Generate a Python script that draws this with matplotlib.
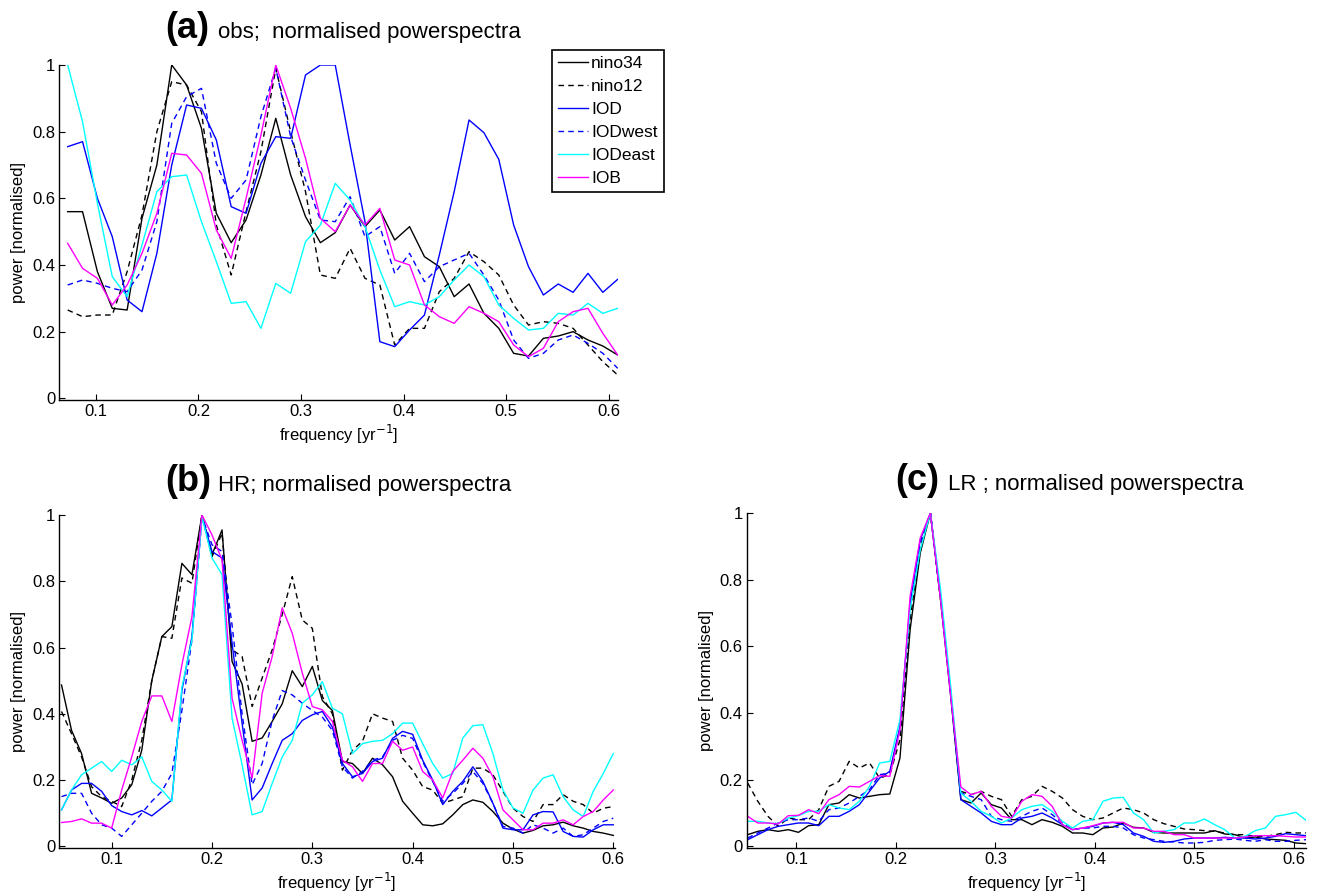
import numpy as np
import matplotlib
matplotlib.use('Agg')
import matplotlib.pyplot as plt
from matplotlib.ticker import FuncFormatter

plt.rcParams['font.family'] = ['Liberation Sans', 'DejaVu Sans']

# frequencies [1/yr]
freq_a = np.arange(5, 43) / 69.0
freq_b = np.arange(5, 61) / 100.0
freq_c = np.arange(5, 61) / 98.0

# (a) observations
nino34_a = [0.56, 0.56, 0.38, 0.27, 0.265, 0.54, 0.70, 1.0, 0.94, 0.81,
            0.555, 0.467, 0.535, 0.67, 0.84, 0.67, 0.545, 0.467, 0.497, 0.58,
            0.515, 0.565, 0.475, 0.515, 0.425, 0.395, 0.305, 0.343, 0.255, 0.21,
            0.135, 0.127, 0.18, 0.187, 0.20, 0.175, 0.157, 0.13]
nino12_a = [0.265, 0.245, 0.25, 0.25, 0.38, 0.55, 0.80, 0.95, 0.94, 0.86,
            0.52, 0.37, 0.56, 0.74, 0.99, 0.80, 0.62, 0.37, 0.36, 0.45,
            0.36, 0.34, 0.16, 0.21, 0.21, 0.32, 0.36, 0.44, 0.41, 0.37,
            0.28, 0.22, 0.23, 0.225, 0.21, 0.16, 0.11, 0.07]
iod_a = [0.755, 0.77, 0.60, 0.485, 0.295, 0.26, 0.435, 0.70, 0.88, 0.87,
         0.775, 0.575, 0.555, 0.705, 0.785, 0.78, 0.97, 1.0, 1.0, 0.76,
         0.53, 0.17, 0.155, 0.205, 0.25, 0.43, 0.62, 0.835, 0.797, 0.717,
         0.52, 0.395, 0.31, 0.343, 0.318, 0.375, 0.318, 0.357]
iodwest_a = [0.34, 0.355, 0.345, 0.33, 0.32, 0.385, 0.53, 0.825, 0.905, 0.93,
             0.705, 0.60, 0.655, 0.845, 0.99, 0.785, 0.655, 0.535, 0.53, 0.605,
             0.485, 0.515, 0.375, 0.435, 0.35, 0.395, 0.415, 0.435, 0.37, 0.295,
             0.175, 0.12, 0.135, 0.175, 0.19, 0.165, 0.135, 0.09]
iodeast_a = [1.0, 0.83, 0.585, 0.365, 0.305, 0.46, 0.62, 0.665, 0.67, 0.53,
             0.41, 0.285, 0.29, 0.21, 0.345, 0.315, 0.47, 0.52, 0.645, 0.595,
             0.515, 0.385, 0.275, 0.29, 0.28, 0.305, 0.355, 0.40, 0.365, 0.28,
             0.24, 0.205, 0.21, 0.255, 0.25, 0.285, 0.255, 0.27]
iob_a = [0.465, 0.39, 0.36, 0.28, 0.34, 0.435, 0.555, 0.735, 0.73, 0.675,
         0.505, 0.42, 0.60, 0.79, 1.0, 0.87, 0.72, 0.54, 0.50, 0.58,
         0.52, 0.57, 0.415, 0.40, 0.28, 0.245, 0.225, 0.275, 0.255, 0.23,
         0.16, 0.125, 0.15, 0.23, 0.26, 0.27, 0.195, 0.13]

# (b) HR model
nino34_b = [0.487, 0.35, 0.28, 0.16, 0.146, 0.13, 0.146, 0.186, 0.29, 0.50,
            0.633, 0.663, 0.854, 0.82, 1.0, 0.88, 0.955, 0.558, 0.49, 0.317,
            0.327, 0.377, 0.43, 0.53, 0.482, 0.543, 0.44, 0.41, 0.256, 0.25,
            0.22, 0.266, 0.246, 0.21, 0.136, 0.10, 0.065, 0.062, 0.068, 0.095,
            0.126, 0.14, 0.133, 0.105, 0.07, 0.052, 0.04, 0.048, 0.062, 0.065,
            0.073, 0.062, 0.055, 0.045, 0.04, 0.033]
nino12_b = [0.407, 0.34, 0.27, 0.18, 0.15, 0.136, 0.12, 0.20, 0.32, 0.50,
            0.633, 0.628, 0.81, 0.794, 1.0, 0.874, 0.945, 0.593, 0.573, 0.422,
            0.508, 0.593, 0.70, 0.814, 0.683, 0.658, 0.452, 0.40, 0.23, 0.29,
            0.317, 0.40, 0.387, 0.377, 0.266, 0.23, 0.18, 0.17, 0.13, 0.14,
            0.15, 0.236, 0.236, 0.216, 0.166, 0.115, 0.09, 0.075, 0.126, 0.126,
            0.156, 0.136, 0.126, 0.10, 0.115, 0.12]
iod_b = [0.11, 0.17, 0.19, 0.19, 0.166, 0.123, 0.105, 0.095, 0.108, 0.092,
         0.116, 0.14, 0.47, 0.633, 0.995, 0.89, 0.87, 0.613, 0.372, 0.14,
         0.176, 0.25, 0.32, 0.34, 0.38, 0.397, 0.407, 0.36, 0.25, 0.21,
         0.22, 0.256, 0.266, 0.326, 0.347, 0.338, 0.26, 0.20, 0.126, 0.166,
         0.196, 0.24, 0.196, 0.13, 0.055, 0.05, 0.05, 0.095, 0.105, 0.104,
         0.045, 0.03, 0.028, 0.05, 0.065, 0.065]
iodwest_b = [0.15, 0.16, 0.16, 0.10, 0.065, 0.055, 0.03, 0.065, 0.10, 0.136,
             0.166, 0.22, 0.41, 0.623, 0.995, 0.91, 0.89, 0.668, 0.40, 0.186,
             0.25, 0.38, 0.47, 0.457, 0.432, 0.41, 0.39, 0.35, 0.24, 0.206,
             0.226, 0.26, 0.27, 0.32, 0.335, 0.326, 0.256, 0.196, 0.136, 0.16,
             0.19, 0.226, 0.19, 0.13, 0.06, 0.055, 0.04, 0.065, 0.055, 0.04,
             0.055, 0.03, 0.035, 0.055, 0.075, 0.085]
iodeast_b = [0.11, 0.17, 0.216, 0.236, 0.256, 0.226, 0.26, 0.246, 0.27, 0.196,
             0.17, 0.136, 0.48, 0.623, 0.995, 0.87, 0.82, 0.387, 0.246, 0.095,
             0.105, 0.19, 0.27, 0.32, 0.432, 0.457, 0.497, 0.417, 0.40, 0.28,
             0.31, 0.317, 0.32, 0.34, 0.372, 0.372, 0.31, 0.25, 0.206, 0.22,
             0.327, 0.364, 0.367, 0.28, 0.17, 0.116, 0.10, 0.17, 0.206, 0.216,
             0.15, 0.11, 0.09, 0.166, 0.22, 0.28]
iob_b = [0.072, 0.075, 0.083, 0.07, 0.07, 0.055, 0.17, 0.27, 0.377, 0.454,
         0.454, 0.377, 0.548, 0.693, 1.0, 0.94, 0.864, 0.447, 0.32, 0.206,
         0.462, 0.573, 0.72, 0.643, 0.523, 0.422, 0.412, 0.377, 0.26, 0.24,
         0.196, 0.25, 0.25, 0.317, 0.29, 0.30, 0.226, 0.20, 0.146, 0.226,
         0.26, 0.296, 0.266, 0.21, 0.11, 0.08, 0.05, 0.05, 0.07, 0.07,
         0.08, 0.065, 0.09, 0.105, 0.14, 0.17]

# (c) LR model
nino34_c = [0.035, 0.045, 0.05, 0.045, 0.05, 0.042, 0.062, 0.065, 0.125, 0.13,
            0.155, 0.145, 0.15, 0.155, 0.157, 0.265, 0.65, 0.88, 1.0, 0.74,
            0.45, 0.14, 0.13, 0.16, 0.125, 0.115, 0.08, 0.08,
            0.065, 0.08, 0.072, 0.06, 0.04, 0.04, 0.035, 0.055, 0.058, 0.07,
            0.057, 0.055, 0.042, 0.04, 0.04, 0.04, 0.04, 0.04, 0.047, 0.037,
            0.035, 0.025, 0.028, 0.022, 0.02, 0.018, 0.01, 0.008]
nino12_c = [0.19, 0.135, 0.09, 0.06, 0.085, 0.08, 0.08, 0.11, 0.18, 0.195,
            0.255, 0.235, 0.25, 0.205, 0.215, 0.32, 0.68, 0.90, 1.0, 0.74,
            0.46, 0.165, 0.155, 0.165, 0.15, 0.14, 0.09, 0.14,
            0.15, 0.18, 0.165, 0.145, 0.11, 0.09, 0.08, 0.085, 0.10, 0.115,
            0.11, 0.10, 0.08, 0.068, 0.06, 0.052, 0.05, 0.047, 0.045, 0.04,
            0.035, 0.035, 0.03, 0.03, 0.035, 0.042, 0.04, 0.04]
iod_c = [0.02, 0.035, 0.05, 0.06, 0.065, 0.07, 0.07, 0.062, 0.09, 0.09,
         0.105, 0.125, 0.165, 0.205, 0.225, 0.36, 0.73, 0.92, 1.0, 0.75,
         0.46, 0.14, 0.12, 0.10, 0.075, 0.065, 0.065, 0.085,
         0.09, 0.10, 0.085, 0.065, 0.05, 0.055, 0.06, 0.07, 0.072, 0.065,
         0.04, 0.03, 0.015, 0.012, 0.015, 0.022, 0.025, 0.025, 0.025, 0.027,
         0.025, 0.025, 0.022, 0.025, 0.03, 0.038, 0.035, 0.032]
iodwest_c = [0.025, 0.04, 0.055, 0.07, 0.08, 0.08, 0.085, 0.075, 0.11, 0.115,
             0.13, 0.15, 0.17, 0.215, 0.22, 0.35, 0.72, 0.91, 1.0, 0.745,
             0.455, 0.16, 0.15, 0.14, 0.09, 0.08, 0.075, 0.09,
             0.105, 0.115, 0.095, 0.07, 0.05, 0.055, 0.055, 0.06, 0.06, 0.055,
             0.035, 0.025, 0.02, 0.015, 0.013, 0.01, 0.01, 0.012, 0.018, 0.02,
             0.022, 0.018, 0.015, 0.02, 0.015, 0.015, 0.018, 0.02]
iodeast_c = [0.075, 0.075, 0.07, 0.068, 0.085, 0.092, 0.105, 0.105, 0.125, 0.115,
             0.11, 0.135, 0.18, 0.25, 0.255, 0.38, 0.71, 0.89, 1.0, 0.77,
             0.48, 0.16, 0.135, 0.105, 0.09, 0.07, 0.085, 0.11,
             0.12, 0.125, 0.105, 0.075, 0.055, 0.075, 0.08, 0.135, 0.145, 0.147,
             0.10, 0.08, 0.04, 0.045, 0.05, 0.07, 0.07, 0.082, 0.065, 0.05,
             0.025, 0.03, 0.047, 0.055, 0.09, 0.095, 0.102, 0.078]
iob_c = [0.09, 0.07, 0.07, 0.067, 0.092, 0.093, 0.11, 0.098, 0.14, 0.155,
         0.18, 0.178, 0.195, 0.212, 0.21, 0.35, 0.75, 0.925, 1.0, 0.74,
         0.45, 0.178, 0.155, 0.165, 0.12, 0.09, 0.085, 0.135,
         0.155, 0.15, 0.12, 0.065, 0.05, 0.055, 0.062, 0.07, 0.072, 0.072,
         0.055, 0.055, 0.045, 0.045, 0.035, 0.035, 0.025, 0.025, 0.025, 0.025,
         0.025, 0.028, 0.032, 0.032, 0.032, 0.03, 0.028, 0.028]

names = ['nino34', 'nino12', 'IOD', 'IODwest', 'IODeast', 'IOB']
colors = ['k', 'k', '#0000ff', '#0000ff', '#00ffff', '#ff00ff']
styles = ['-', '--', '-', '--', '-', '-']

W, H = 1318, 896
fig = plt.figure(figsize=(W / 100, H / 100), dpi=100)


def px_axes(left, right, top, bottom):
    return fig.add_axes([left / W, 1 - bottom / H, (right - left) / W, (bottom - top) / H])


def draw(ax, x, series, xlim):
    for y, c, ls, n in zip(series, colors, styles, names):
        line, = ax.plot(x, y, color=c, linestyle=ls, lw=1.0, label=n)
        if ls == '--':
            line.set_dashes((4, 3))
    ax.set_xlim(*xlim)
    ax.set_ylim(-0.005, 1.0)
    ax.set_xticks([0.1, 0.2, 0.3, 0.4, 0.5, 0.6])
    ax.set_yticks([0, 0.2, 0.4, 0.6, 0.8, 1.0])
    ax.yaxis.set_major_formatter(FuncFormatter(lambda v, _: f'{v:g}'))
    ax.spines['top'].set_visible(False)
    ax.spines['right'].set_visible(False)
    for s in ('left', 'bottom'):
        ax.spines[s].set_linewidth(1.0)
    ax.tick_params(direction='in', length=4, width=0.8, pad=3, labelsize=12)
    ax.set_xlabel('frequency [yr$^{-1}$]', fontsize=12, labelpad=3)
    ax.set_ylabel('power [normalised]', fontsize=12, labelpad=4)


ax_a = px_axes(59.3, 617.7, 65, 400)
draw(ax_a, freq_a, [nino34_a, nino12_a, iod_a, iodwest_a, iodeast_a, iob_a],
     (0.0643, freq_a[-1]))
leg = ax_a.legend(loc='upper left', bbox_to_anchor=(552 / W, 1 - 50 / H),
                  bbox_transform=fig.transFigure, borderaxespad=0, fontsize=12.5,
                  frameon=True, fancybox=False, edgecolor='k', framealpha=1,
                  handlelength=1.75, handletextpad=0.15, labelspacing=0.45,
                  borderpad=0.35)
leg.get_frame().set_linewidth(1.2)

ax_b = px_axes(59.3, 615, 515, 848)
draw(ax_b, freq_b, [nino34_b, nino12_b, iod_b, iodwest_b, iodeast_b, iob_b],
     (0.0478, 0.6017))

ax_c = px_axes(746.7, 1306, 513, 848)
draw(ax_c, freq_c, [nino34_c, nino12_c, iod_c, iodwest_c, iodeast_c, iob_c],
     (freq_c[0] - 0.001, freq_c[-1]))

# titles: bold panel letter followed by plain text
titles = [(165, 218, 38, '(a)', 'obs;  normalised powerspectra'),
          (165, 218, 491, '(b)', 'HR; normalised powerspectra'),
          (895, 948, 490, '(c)', 'LR ; normalised powerspectra')]
for xb, xt, yb, bold, txt in titles:
    fig.text(xb / W, 1 - yb / H, bold, fontsize=26, fontweight='bold', va='baseline')
    fig.text(xt / W, 1 - yb / H, txt, fontsize=16, va='baseline')

fig.savefig('out.png', dpi=100)
